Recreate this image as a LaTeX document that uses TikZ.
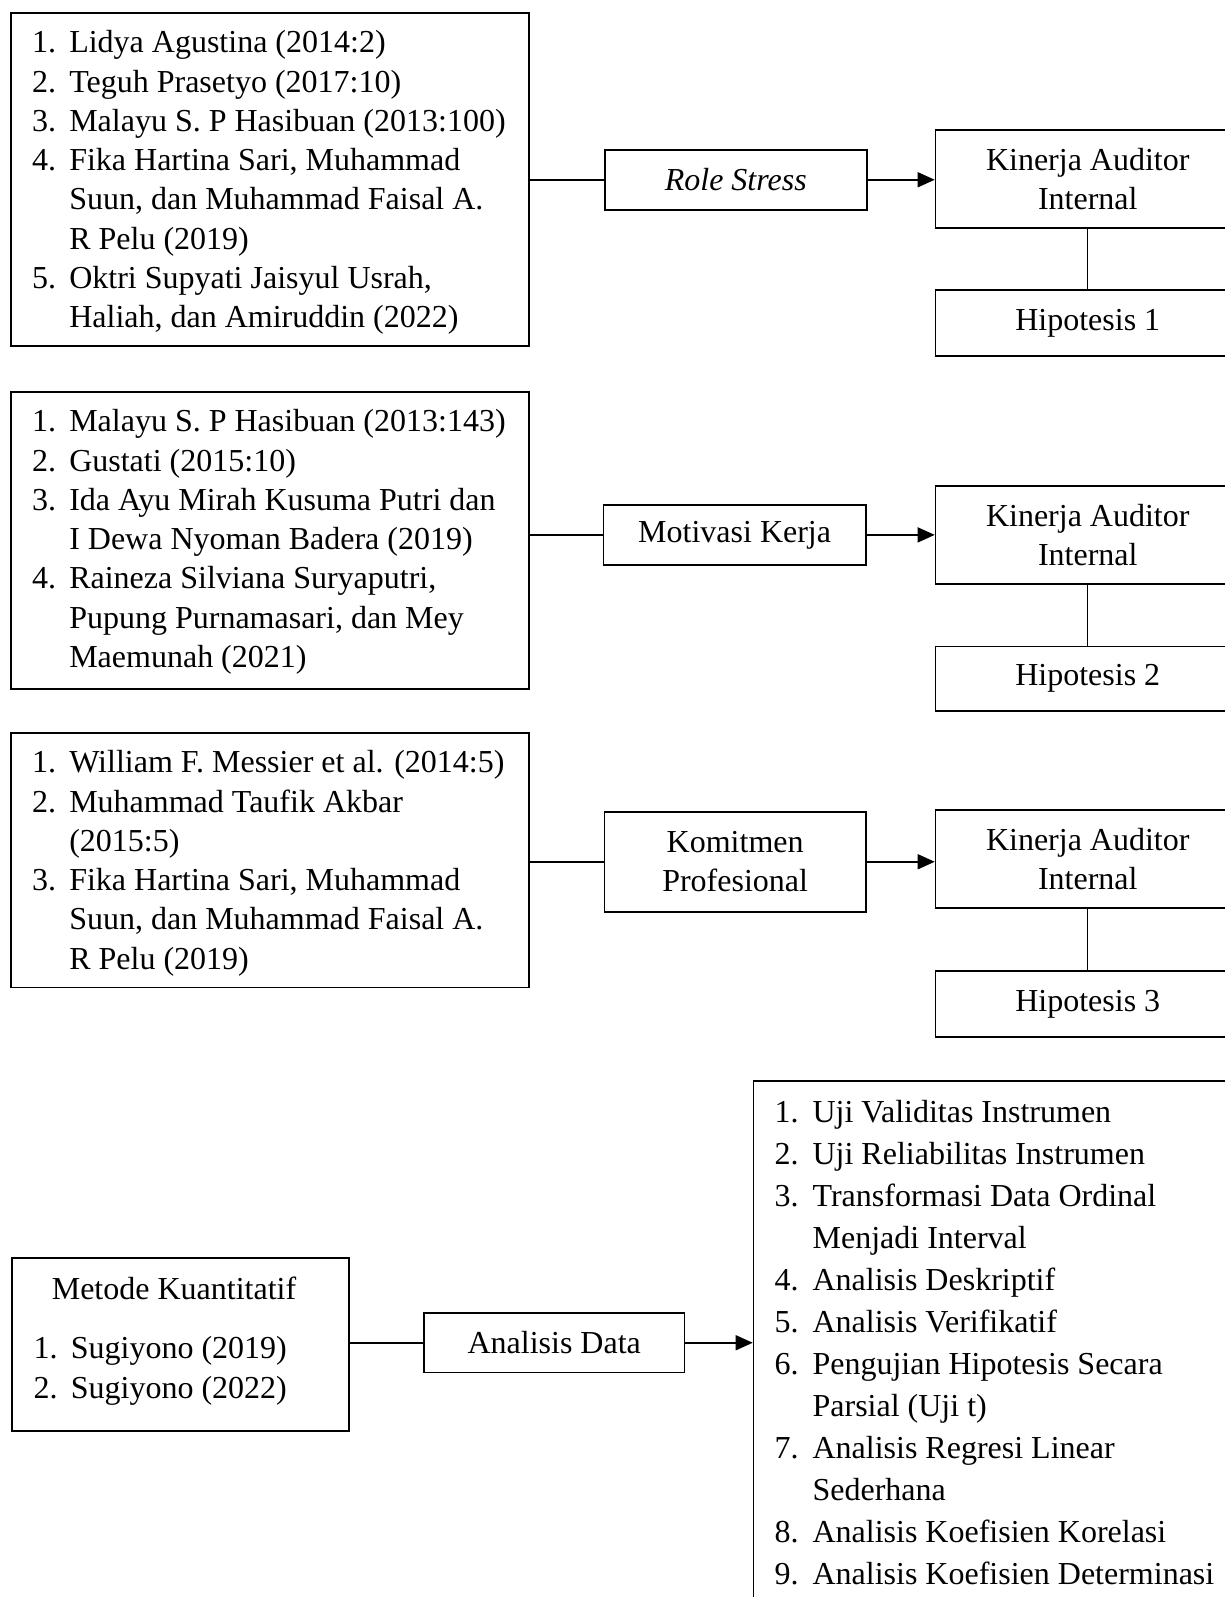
\documentclass[tikz,border=0pt]{standalone}
\usepackage{fontspec}
\setmainfont{Liberation Serif}
\usetikzlibrary{arrows.meta}
\newcommand\lsnum[1]{\makebox[18.6pt][l]{#1}}
\newcommand\lsind{\hspace*{18.6pt}}
\newcommand\lsnumb[1]{\makebox[18.95pt][l]{#1}}
\newcommand\lsindb{\hspace*{18.95pt}}
\begin{document}
\begin{tikzpicture}[x=0.5pt,y=-0.5pt,
  box/.style={draw,line width=0.75pt,inner sep=0pt,anchor=north west,
    font=\fontsize{16}{19.65}\selectfont,align=center},
  lst/.style={inner sep=0pt,anchor=base west,align=left,
    font=\fontsize{16}{19.65}\selectfont},
  conn/.style={line width=0.75pt},
  arr/.style={line width=0.75pt,-{Triangle[length=8.5pt,width=7.5pt]}},
  vline/.style={line width=0.6pt}]
\path[use as bounding box] (0,0) rectangle (1225,1597);
\clip (0,0) rectangle (1225,1597);

% ---- row 1 (list anchored at the baseline of its last line)
\node[box,minimum width=258.85pt,minimum height=166.35pt] (b1) at (10.3,12.3) {};
\node[lst] (t1) at (31.7,327.8) {\lsnum{1.}Lidya Agustina (2014:2)\\
\lsnum{2.}Teguh Prasetyo (2017:10)\\
\lsnum{3.}Malayu S. P Hasibuan (2013:100)\\
\lsnum{4.}Fika Hartina Sari, Muhammad\\
\lsind Suun, dan Muhammad Faisal A.\\
\lsind R Pelu (2019)\\
\lsnum{5.}Oktri Supyati Jaisyul Usrah,\\
\lsind Haliah, dan Amiruddin (2022)};
\node[box,minimum width=131pt,minimum height=30pt] (rs) at (604,149) {\textit{Role Stress}};
\node[box,minimum width=152.3pt,minimum height=49pt] (k1) at (934.7,129.3) {Kinerja Auditor\\Internal};
\node[box,minimum width=152.3pt,minimum height=32.85pt] (h1) at (934.7,289.3) {Hipotesis 1};
\draw[conn] (rs.west) -- (rs.west -| b1.east);
\draw[arr] (rs.east) -- (rs.east -| k1.west);
\draw[vline] (k1.south) -- (h1.north);

% ---- row 2
\node[box,minimum width=258.85pt,minimum height=148.65pt] (b2) at (10.3,391) {};
\node[lst] (t2) at (31.7,667.5) {\lsnum{1.}Malayu S. P Hasibuan (2013:143)\\
\lsnum{2.}Gustati (2015:10)\\
\lsnum{3.}Ida Ayu Mirah Kusuma Putri dan\\
\lsind I Dewa Nyoman Badera (2019)\\
\lsnum{4.}Raineza Silviana Suryaputri,\\
\lsind Pupung Purnamasari, dan Mey\\
\lsind Maemunah (2021)};
\node[box,minimum width=131.3pt,minimum height=30.15pt] (mk) at (602.6,504) {Motivasi Kerja};
\node[box,minimum width=152.3pt,minimum height=49.15pt] (k2) at (934.7,485) {Kinerja Auditor\\Internal};
\node[box,minimum width=152.3pt,minimum height=32.15pt] (h2) at (934.7,645.7) {Hipotesis 2};
\draw[conn] (mk.west) -- (mk.west -| b2.east);
\draw[arr] (mk.east) -- (mk.east -| k2.west);
\draw[vline] (k2.south) -- (h2.north);

% ---- row 3
\node[box,minimum width=258.85pt,minimum height=127.2pt] (b3) at (10.3,732.3) {};
\node[lst] (t3) at (31.7,969.2) {\lsnum{1.}William F. Messier et al. (2014:5)\\
\lsnum{2.}Muhammad Taufik Akbar\\
\lsind (2015:5)\\
\lsnum{3.}Fika Hartina Sari, Muhammad\\
\lsind Suun, dan Muhammad Faisal A.\\
\lsind R Pelu (2019)};
\node[box,minimum width=130.8pt,minimum height=50pt] (kp) at (603.6,811) {Komitmen\\Profesional};
\node[box,minimum width=152.3pt,minimum height=49pt] (k3) at (934.7,809.3) {Kinerja Auditor\\Internal};
\node[box,minimum width=152.3pt,minimum height=32.85pt] (h3) at (934.7,970.3) {Hipotesis 3};
\draw[conn] (kp.west) -- (kp.west -| b3.east);
\draw[arr] (kp.east) -- (kp.east -| k3.west);
\draw[vline] (k3.south) -- (h3.north);

% ---- bottom
\node[box,minimum width=168.65pt,minimum height=86.35pt] (mt) at (11,1257.3) {};
\node[inner sep=0pt,anchor=base,font=\fontsize{16}{19.65}\selectfont] (mtt) at (174,1299.3) {Metode Kuantitatif};
\node[lst,font=\fontsize{16}{20}\selectfont] (t4) at (33.3,1398.3) {\lsnum{1.}Sugiyono (2019)\\
\lsnum{2.}Sugiyono (2022)};
\node[box,minimum width=130.25pt,minimum height=29.7pt] (ad) at (423.2,1312.3) {Analisis Data};
\node[box,minimum width=258.65pt,minimum height=270pt] (bb) at (752.7,1080) {};
\node[lst,font=\fontsize{16}{21}\selectfont] (t5) at (774.3,1584) {\lsnumb{1.}Uji Validitas Instrumen\\
\lsnumb{2.}Uji Reliabilitas Instrumen\\
\lsnumb{3.}Transformasi Data Ordinal\\
\lsindb Menjadi Interval\\
\lsnumb{4.}Analisis Deskriptif\\
\lsnumb{5.}Analisis Verifikatif\\
\lsnumb{6.}Pengujian Hipotesis Secara\\
\lsindb Parsial (Uji t)\\
\lsnumb{7.}Analisis Regresi Linear\\
\lsindb Sederhana\\
\lsnumb{8.}Analisis Koefisien Korelasi\\
\lsnumb{9.}Analisis Koefisien Determinasi};
\draw[conn] (ad.west) -- (ad.west -| mt.east);
\draw[arr] (ad.east) -- (ad.east -| bb.west);
\end{tikzpicture}
\end{document}
